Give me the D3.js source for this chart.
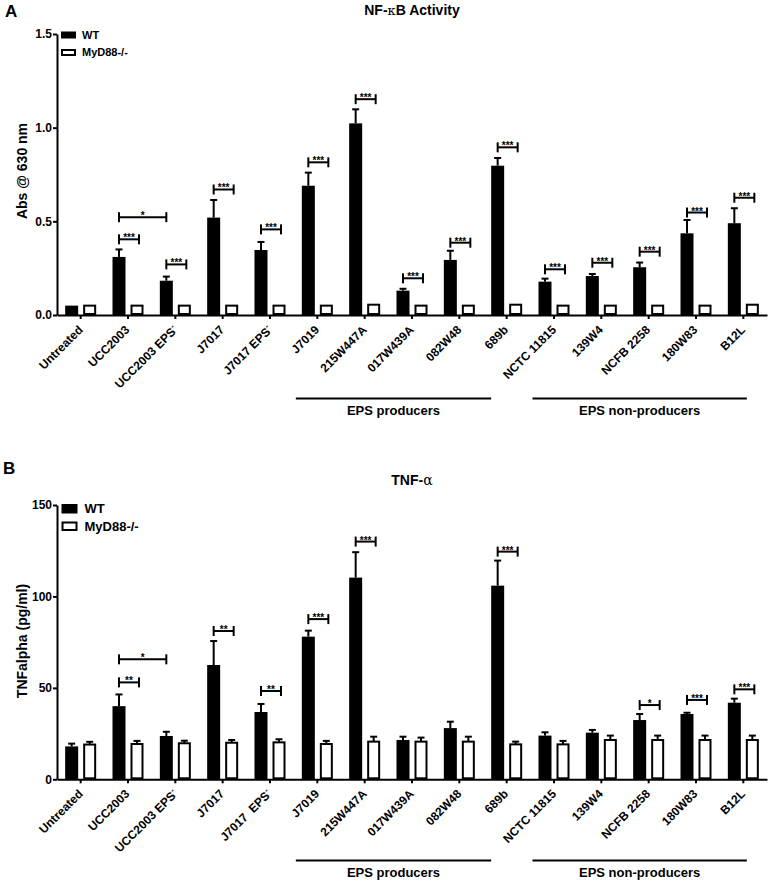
<!DOCTYPE html>
<html>
<head>
<meta charset="utf-8">
<script src="https://cdn.jsdelivr.net/npm/d3@7"></script>
<style>
  body { margin: 0; background: #fff; }
  #wrap { position: relative; width: 772px; height: 881px; }
  svg { display: block; position: absolute; left: 0; top: 0; }
  text { font-family: "Liberation Sans", Arial, sans-serif; }
  .xl { position: absolute; white-space: pre; font: bold 12px "Liberation Sans", Arial, sans-serif;
        color: #000; line-height: 12px; transform-origin: 100% 100%; transform: rotate(-45deg); }
  .xl sup { font-size: 8px; vertical-align: 5px; line-height: 0; }
</style>
</head>
<body>
<div id="wrap"></div>
<script>
// ---------------- DATA ----------------
const categories = ["Untreated","UCC2003","UCC2003 EPS-","J7017","J7017 EPS-","J7019","215W447A","017W439A","082W48","689b","NCTC 11815","139W4","NCFB 2258","180W83","B12L"];
const labelsA = ["Untreated","UCC2003","UCC2003 EPS-","J7017","J7017 EPS-","J7019","215W447A","017W439A","082W48","689b","NCTC 11815","139W4","NCFB 2258","180W83","B12L"];
const labelsB = ["Untreated","UCC2003","UCC2003 EPS-","J7017","J7017  EPS-","J7019","215W447A","017W439A","082W48","689b","NCTC 11815","139W4","NCFB 2258","180W83","B12L"];
const seriesNames = ["WT","MyD88-/-"];

// Panel A: NF-kB activity (Abs @ 630 nm)
const nfkbWT    = [0.05, 0.31, 0.183, 0.52, 0.347, 0.69, 1.023, 0.13, 0.294, 0.797, 0.178, 0.208, 0.255, 0.436, 0.49];
const nfkbWTerr = [0, 0.04, 0.022, 0.094, 0.043, 0.07, 0.075, 0.01, 0.049, 0.041, 0.016, 0.011, 0.025, 0.071, 0.08];
const nfkbKO    = [0.05, 0.05, 0.05, 0.05, 0.05, 0.05, 0.055, 0.05, 0.05, 0.055, 0.05, 0.05, 0.05, 0.05, 0.055];
const nfkbKOerr = [0, 0, 0, 0, 0, 0, 0, 0, 0, 0, 0, 0, 0, 0, 0];
const nfkbTicks = [0, 0.5, 1.0, 1.5];
const sigA = [
  {cat:"UCC2003", y:0.404, t:"***"},
  {cat:"UCC2003", cat2:"UCC2003 EPS-", y:0.522, t:"*"},
  {cat:"UCC2003 EPS-", y:0.27, t:"***"},
  {cat:"J7017", y:0.67, t:"***"},
  {cat:"J7017 EPS-", y:0.457, t:"***"},
  {cat:"J7019", y:0.815, t:"***"},
  {cat:"215W447A", y:1.152, t:"***"},
  {cat:"017W439A", y:0.196, t:"***"},
  {cat:"082W48", y:0.386, t:"***"},
  {cat:"689b", y:0.895, t:"***"},
  {cat:"NCTC 11815", y:0.244, t:"***"},
  {cat:"139W4", y:0.279, t:"***"},
  {cat:"NCFB 2258", y:0.338, t:"***"},
  {cat:"180W83", y:0.547, t:"***"},
  {cat:"B12L", y:0.626, t:"***"}
];

// Panel B: TNF-alpha (pg/ml)
const tnfWT    = [18, 40, 23.7, 62.5, 36.8, 78, 110.3, 21.5, 28, 105.9, 23.9, 25.5, 32.4, 35.7, 41.9];
const tnfWTerr = [1.5, 6.4, 2.3, 13.1, 4.4, 3.3, 13.9, 1.8, 3.5, 13.7, 1.8, 1.5, 3.3, 0.7, 2.2];
const tnfKO    = [19, 19.3, 19.7, 20, 20.2, 19.3, 20.6, 20.6, 20.6, 19.1, 19.1, 21.5, 21.5, 21.5, 21.5];
const tnfKOerr = [1.5, 1.7, 1.4, 1.5, 1.7, 1.7, 2.7, 2.2, 2.7, 1.5, 1.9, 2.4, 2.4, 2.4, 2.4];
const tnfTicks = [0, 50, 100, 150];
const sigB = [
  {cat:"UCC2003", y:53, t:"**"},
  {cat:"UCC2003", cat2:"UCC2003 EPS-", y:65.6, t:"*"},
  {cat:"J7017", y:81.1, t:"**"},
  {cat:"J7017 EPS-", y:48.3, t:"**"},
  {cat:"J7019", y:87.6, t:"***"},
  {cat:"215W447A", y:130, t:"***"},
  {cat:"689b", y:124.5, t:"***"},
  {cat:"NCFB 2258", y:40.6, t:"*"},
  {cat:"180W83", y:43.4, t:"***"},
  {cat:"B12L", y:49.2, t:"***"}
];

const groups = [
  {label:"EPS producers", from:"J7019", to:"689b"},
  {label:"EPS non-producers", from:"NCTC 11815", to:"B12L"}
];

// ---------------- DRAW ----------------
const W = 772, H = 881;
const wrap = d3.select("#wrap");
const svg = wrap.append("svg").attr("width", W).attr("height", H);

const x = d3.scaleBand().domain(categories).range([57, 767]).paddingInner(0.345).paddingOuter(0.1725);
const inner = d3.scaleBand().domain(seriesNames).range([0, x.bandwidth()]).paddingInner(0.278);

function drawPanel(cfg) {
  const g = svg.append("g");
  const y = d3.scaleLinear().domain(cfg.domain).range(cfg.range);
  const y0 = y(0);

  // panel letter
  g.append("text").attr("x", cfg.letterX).attr("y", cfg.letterY)
    .attr("font-size", 17).attr("font-weight", "bold").text(cfg.letter);
  // title
  const tt = g.append("text").attr("x", 412).attr("y", cfg.titleY).attr("text-anchor", "middle")
    .attr("font-size", 14).attr("font-weight", "bold");
  cfg.titleParts.forEach(p => {
    tt.append("tspan").attr("font-weight", p.normal ? "normal" : "bold")
      .attr("font-family", p.normal ? "DejaVu Serif, serif" : null)
      .attr("font-size", p.size || 14).text(p.t);
  });

  // y axis
  const ya = g.append("g").attr("transform", "translate(57,0)")
    .call(d3.axisLeft(y).tickValues(cfg.ticks).tickFormat(cfg.fmt).tickSize(4).tickSizeOuter(0));
  ya.select(".domain").attr("stroke-width", 2);
  ya.selectAll(".tick line").attr("stroke-width", 2);
  ya.selectAll(".tick text").attr("font-size", 12).attr("font-weight", "bold")
    .attr("font-family", "Liberation Sans, Arial, sans-serif").attr("x", -5).attr("fill", "#000");

  // y title
  g.append("text").attr("transform", `translate(${cfg.yTitleX},${cfg.yTitleY}) rotate(-90)`)
    .attr("text-anchor", "middle").attr("font-size", 14).attr("font-weight", "bold").text(cfg.yTitle);

  // x axis
  const xa = g.append("g").attr("transform", `translate(0,${y0})`)
    .call(d3.axisBottom(x).tickSize(4).tickSizeOuter(0).tickFormat(""));
  xa.select(".domain").attr("stroke-width", 2);
  xa.selectAll(".tick line").attr("stroke-width", 2);

  // x labels as HTML, rotated 45 degrees about their bottom-right corner
  categories.forEach((c, i) => {
    const cx = x(c) + x.bandwidth() / 2 + 4;
    const cy = y0 + 17;
    const lab = cfg.labels[i];
    const d = wrap.append("div").attr("class", "xl")
      .style("right", (W - cx) + "px").style("bottom", (H - cy) + "px");
    if (lab.endsWith("-")) {
      d.append("span").text(lab.slice(0, -1));
      d.append("sup").text("-");
    } else {
      d.text(lab);
    }
  });

  // bars
  const bw = inner.bandwidth();
  categories.forEach((c, i) => {
    const xb = x(c) + inner("WT");
    g.append("rect").attr("x", xb).attr("width", bw)
      .attr("y", y(cfg.wt[i])).attr("height", y0 - y(cfg.wt[i])).attr("fill", "#000");
    const xw = x(c) + inner("MyD88-/-");
    g.append("rect").attr("x", xw + 1).attr("width", bw - 2)
      .attr("y", y(cfg.ko[i])).attr("height", y0 - y(cfg.ko[i]) - 1)
      .attr("fill", "#fff").attr("stroke", "#000").attr("stroke-width", 2);
    [[xb, cfg.wt[i], cfg.wtErr[i]], [xw, cfg.ko[i], cfg.koErr[i]]].forEach(([xx, v, e]) => {
      if (e > 0) {
        const mx = xx + bw / 2;
        g.append("line").attr("x1", mx).attr("x2", mx).attr("y1", y(v)).attr("y2", y(v + e))
          .attr("stroke", "#000").attr("stroke-width", 2);
        g.append("line").attr("x1", mx - 3.5).attr("x2", mx + 3.5).attr("y1", y(v + e)).attr("y2", y(v + e))
          .attr("stroke", "#000").attr("stroke-width", 2);
      }
    });
  });

  // significance brackets
  cfg.sig.forEach(s => {
    const x1 = x(s.cat) + inner("WT") + bw / 2;
    const x2 = s.cat2 ? x(s.cat2) + inner("WT") + bw / 2
                      : x(s.cat) + inner("MyD88-/-") + bw / 2 + 2;
    const yy = y(s.y);
    g.append("line").attr("x1", x1).attr("x2", x2).attr("y1", yy).attr("y2", yy)
      .attr("stroke", "#000").attr("stroke-width", 2);
    [x1, x2].forEach(xx => g.append("line").attr("x1", xx).attr("x2", xx)
      .attr("y1", yy - 5).attr("y2", yy + 5).attr("stroke", "#000").attr("stroke-width", 2));
    g.append("text").attr("x", (x1 + x2) / 2).attr("y", yy + 2).attr("text-anchor", "middle")
      .attr("font-size", 10).attr("font-weight", "bold").attr("fill", "#000").text(s.t);
  });

  // legend
  const L = cfg.legend;
  seriesNames.forEach((s, i) => {
    const ly = L.y + i * L.gap;
    g.append("rect").attr("x", L.x + 1).attr("y", ly + 1).attr("width", L.w - 2).attr("height", L.h - 2)
      .attr("fill", i === 0 ? "#000" : "#fff").attr("stroke", "#000").attr("stroke-width", 2);
    g.append("text").attr("x", L.x + L.w + L.tx).attr("y", ly + L.h / 2).attr("dy", "0.36em")
      .attr("font-size", L.fs).attr("font-weight", "bold").text(s);
  });

  // group lines
  groups.forEach(gr => {
    const x1 = x(gr.from) + inner("WT") - 6;
    const x2 = x(gr.to) + inner("WT") + (gr.to === "B12L" ? 19 : 0);
    g.append("line").attr("x1", x1).attr("x2", x2).attr("y1", cfg.groupY).attr("y2", cfg.groupY)
      .attr("stroke", "#000").attr("stroke-width", 2);
    g.append("text").attr("x", (x1 + x2) / 2).attr("y", cfg.groupY + 16).attr("text-anchor", "middle")
      .attr("font-family", "Open Sans, sans-serif").attr("font-weight", 700).attr("font-size", 13)
      .text(gr.label);
  });
}

drawPanel({
  domain: [0, 1.5], range: [315, 34], ticks: nfkbTicks, fmt: d3.format(".1f"),
  wt: nfkbWT, wtErr: nfkbWTerr, ko: nfkbKO, koErr: nfkbKOerr, sig: sigA, labels: labelsA,
  letter: "A", letterX: 5, letterY: 17, titleY: 15,
  titleParts: [{t:"NF-"}, {t:"κ", normal:true, size:13}, {t:"B Activity"}],
  yTitle: "Abs @ 630 nm", yTitleX: 27, yTitleY: 171,
  legend: {x: 61, y: 31.5, w: 15, h: 7, gap: 17.5, tx: 6, fs: 11},
  groupY: 398.5
});

drawPanel({
  domain: [0, 150], range: [779.3, 505], ticks: tnfTicks, fmt: d3.format("d"),
  wt: tnfWT, wtErr: tnfWTerr, ko: tnfKO, koErr: tnfKOerr, sig: sigB, labels: labelsB,
  letter: "B", letterX: 3, letterY: 474, titleY: 485,
  titleParts: [{t:"TNF-"}, {t:"α", normal:true, size:14}],
  yTitle: "TNFalpha (pg/ml)", yTitleX: 27, yTitleY: 641,
  legend: {x: 61.5, y: 504, w: 16, h: 9.5, gap: 17.5, tx: 7, fs: 13},
  groupY: 860.5
});
</script>
</body>
</html>
